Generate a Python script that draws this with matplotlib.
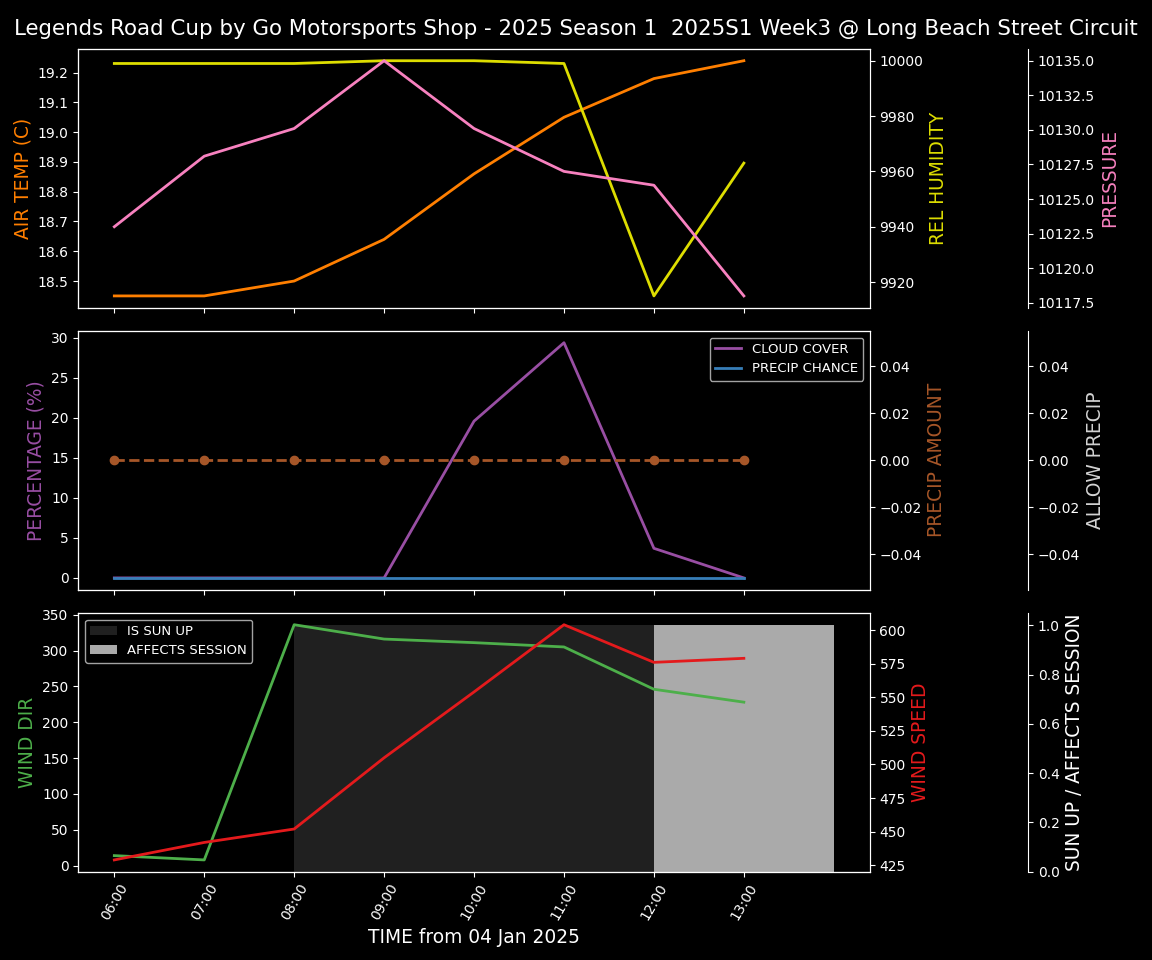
import matplotlib
matplotlib.use('Agg')
import matplotlib.pyplot as plt
import matplotlib.dates as mdates
from datetime import datetime, timedelta

plt.style.use('dark_background')

# hourly data
hours = ['06:00', '07:00', '08:00', '09:00', '10:00', '11:00', '12:00', '13:00']
air_temp = [18.45, 18.45, 18.50, 18.64, 18.86, 19.05, 19.18, 19.24]
rel_humidity = [9999, 9999, 9999, 10000, 10000, 9999, 9915, 9963]
pressure = [10123.0, 10128.1, 10130.1, 10135.0, 10130.1, 10127.0, 10126.0, 10118.0]
cloud_cover = [0, 0, 0, 0, 19.6, 29.4, 3.7, 0]
precip_chance = [0, 0, 0, 0, 0, 0, 0, 0]
precip_amount = [0, 0, 0, 0, 0, 0, 0, 0]
allow_precip = [0, 0, 0, 0, 0, 0, 0, 0]
wind_dir = [14, 8, 336, 316, 311, 305, 246, 228]
wind_speed = [429, 442, 452, 505, 554, 604, 576, 579]
is_sun_up = [0, 0, 1, 1, 1, 1, 1, 1]
affects_session = [0, 0, 0, 0, 0, 0, 1, 1]

base = datetime(2025, 1, 4)
times = [base + timedelta(hours=int(h[:2]), minutes=int(h[3:])) for h in hours]
width = timedelta(hours=1)

fig, (ax1, ax2, ax3) = plt.subplots(3, 1, figsize=(11.52, 9.6), sharex=True)
fig.subplots_adjust(left=0.068, right=0.755, top=0.949, bottom=0.092, hspace=0.09)
fig.suptitle('Legends Road Cup by Go Motorsports Shop - 2025 Season 1  2025S1 Week3 @ Long Beach Street Circuit',
             fontsize=15.4, y=0.98)

lab = 13.4
leg = 9.5

# top panel
ax1.plot(times, air_temp, color='#ff7f00', lw=2)
ax1.set_ylabel('AIR TEMP (C)', color='#ff7f00', fontsize=lab)
ax1b = ax1.twinx()
ax1b.plot(times, rel_humidity, color='#dddd00', lw=2)
ax1b.set_ylabel('REL HUMIDITY', color='#dddd00', fontsize=lab)
ax1c = ax1.twinx()
ax1c.spines['right'].set_position(('axes', 1.2))
ax1c.plot(times, pressure, color='#f781bf', lw=2)
ax1c.set_ylabel('PRESSURE', color='#f781bf', fontsize=lab)

# middle panel
ax2.plot(times, cloud_cover, color='#984ea3', lw=2, label='CLOUD COVER')
ax2.plot(times, precip_chance, color='#377eb8', lw=2, label='PRECIP CHANCE')
ax2.set_ylabel('PERCENTAGE (%)', color='#984ea3', fontsize=lab)
ax2.legend(loc='upper right', fontsize=leg)
ax2b = ax2.twinx()
ax2b.plot(times, precip_amount, color='#a65628', lw=2, ls='--', marker='o')
ax2b.set_ylabel('PRECIP AMOUNT', color='#a65628', fontsize=lab)
ax2c = ax2.twinx()
ax2c.spines['right'].set_position(('axes', 1.2))
ax2c.plot(times, allow_precip, color='lightgray', ls='')
ax2c.set_ylabel('ALLOW PRECIP', color='lightgray', fontsize=lab)

# bottom panel
ax3.plot(times, wind_dir, color='#4daf4a', lw=2)
ax3.set_ylabel('WIND DIR', color='#4daf4a', fontsize=lab)
ax3b = ax3.twinx()
ax3b.plot(times, wind_speed, color='#e41a1c', lw=2)
ax3b.set_ylabel('WIND SPEED', color='#e41a1c', fontsize=lab)
ax3c = ax3.twinx()
ax3c.spines['right'].set_position(('axes', 1.2))
ax3c.bar(times, is_sun_up, width=width, align='edge', color='#202020', label='IS SUN UP')
ax3c.bar(times, affects_session, width=width, align='edge', color='#aaaaaa', label='AFFECTS SESSION')
ax3c.set_ylabel('SUN UP / AFFECTS SESSION', color='white', fontsize=lab)
# shading behind lines
ax3.set_zorder(ax3c.get_zorder() + 1)
ax3.patch.set_visible(False)
ax3b.set_zorder(ax3.get_zorder() + 1)
ax3b.patch.set_visible(False)
h, l = ax3c.get_legend_handles_labels()
ax3b.legend(h, l, loc='upper left', fontsize=leg)

ax3.xaxis.set_major_formatter(mdates.DateFormatter('%H:%M'))
ax3.set_xticks(times)
for t in ax3.get_xticklabels():
    t.set_rotation(60)
ax3.set_xlabel('TIME from 04 Jan 2025', fontsize=lab)

plt.savefig('out.png', dpi=100, facecolor='black')
